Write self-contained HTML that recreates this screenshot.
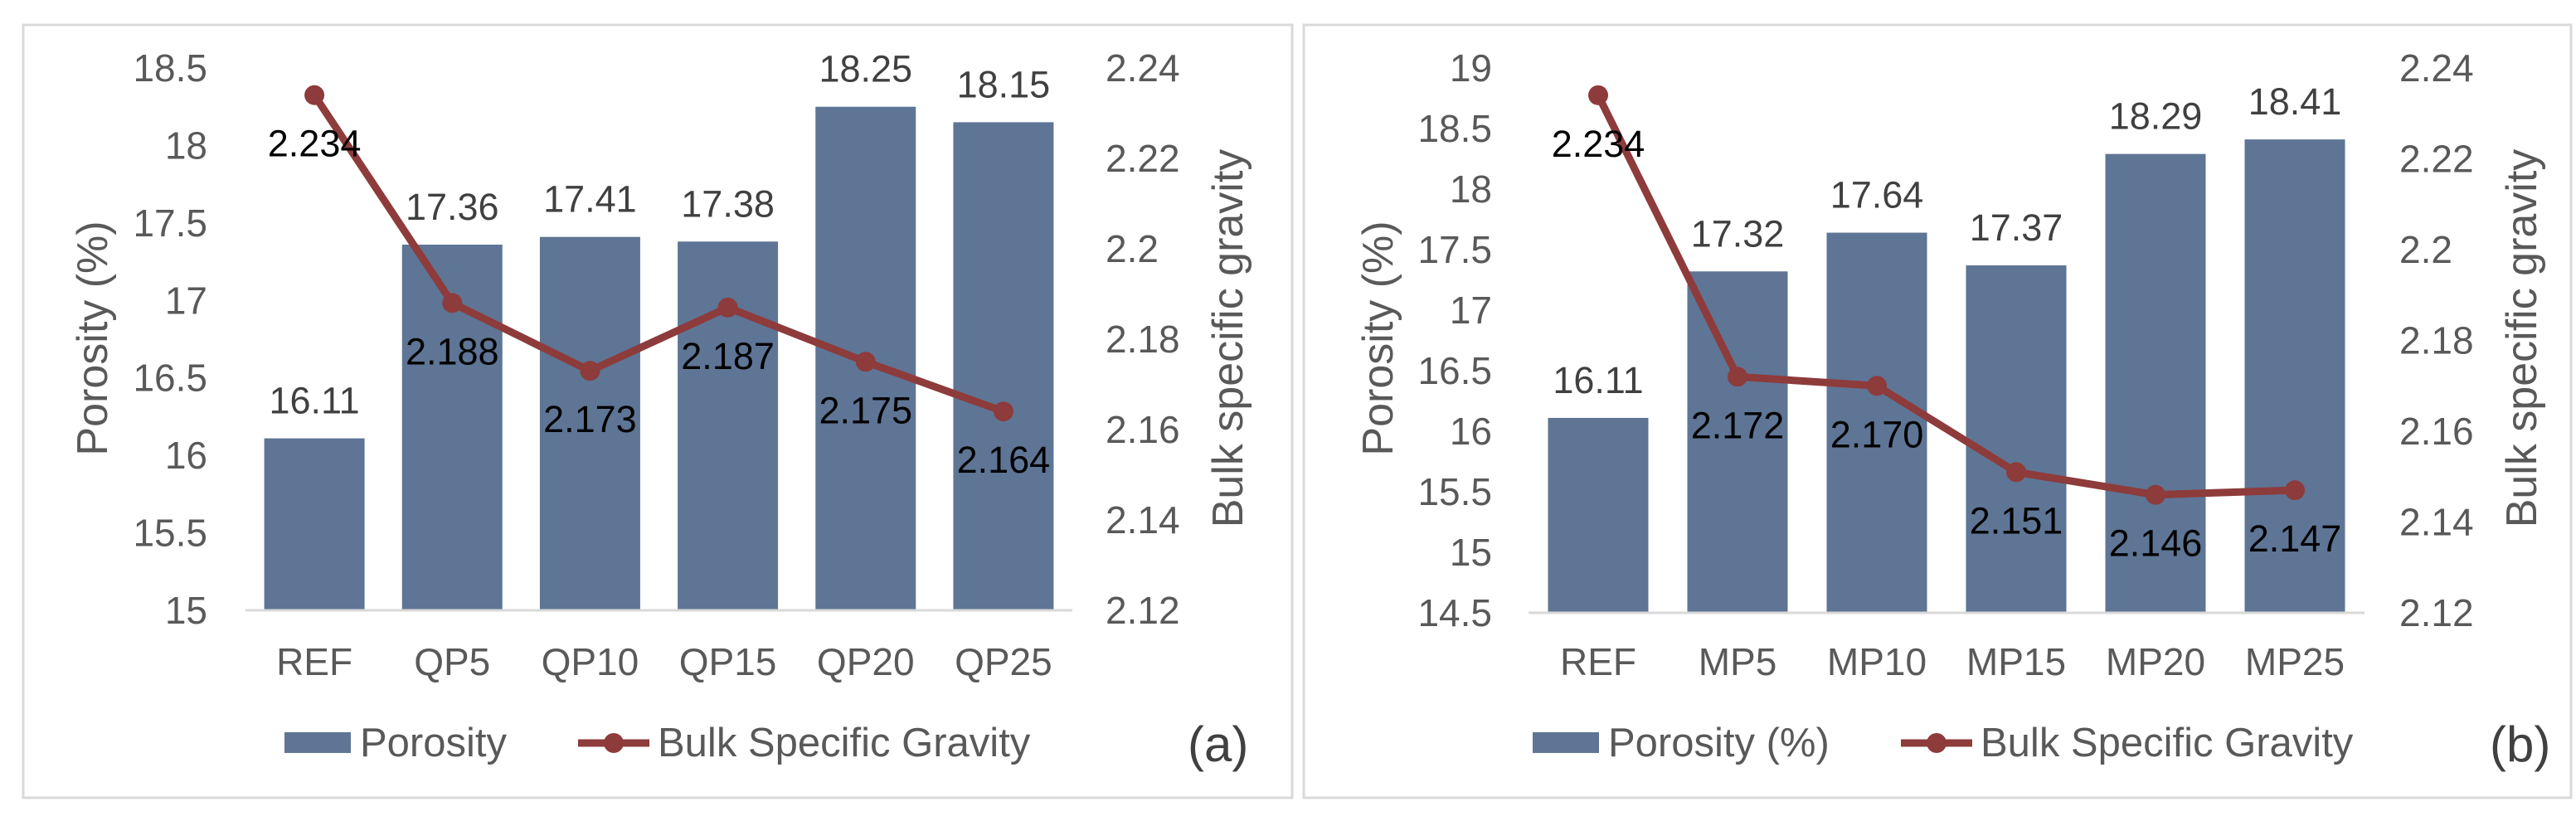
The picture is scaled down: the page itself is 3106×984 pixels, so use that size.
<!DOCTYPE html>
<html><head><meta charset="utf-8">
<style>
html,body{margin:0;padding:0;background:#fff;}
svg{display:block;font-family:"Liberation Sans",Arial,sans-serif;}
</style></head>
<body>
<svg id="chart" width="3106" height="984" viewBox="0 0 3106 984" xmlns="http://www.w3.org/2000/svg">
<rect x="0" y="0" width="3106" height="984" fill="#fff"/>
</svg>
<script>
const categoriesA = ["REF","QP5","QP10","QP15","QP20","QP25"];
const porosityA = [16.11,17.36,17.41,17.38,18.25,18.15];
const gravityA = [2.234,2.188,2.173,2.187,2.175,2.164];
const leftTicksA = [15,15.5,16,16.5,17,17.5,18,18.5];
const categoriesB = ["REF","MP5","MP10","MP15","MP20","MP25"];
const porosityB = [16.11,17.32,17.64,17.37,18.29,18.41];
const gravityB = [2.234,2.172,2.170,2.151,2.146,2.147];
const gravityLabelsB = ["2.234","2.172","2.170","2.151","2.146","2.147"];
const leftTicksB = [14.5,15,15.5,16,16.5,17,17.5,18,18.5,19];
const rightTicks = [2.12,2.14,2.16,2.18,2.2,2.22,2.24];

const NS = "http://www.w3.org/2000/svg";
const svg = document.getElementById("chart");
function mk(tag, attrs, parent, text){
  const e = document.createElementNS(NS, tag);
  for (const k in attrs) e.setAttribute(k, attrs[k]);
  if (text !== undefined) e.textContent = text;
  (parent || svg).appendChild(e);
  return e;
}

function panel(o){
  const g = mk("g", {});
  
  
  const border = mk("rect", {x:o.bx, y:30, width:o.bw, height:932, fill:"none", stroke:"#d9d9d9", "stroke-width":3}, g);
  
  
  const top = 82, bot = o.base;
  const yL = v => bot - (v - o.lmin) / (o.lmax - o.lmin) * (bot - top);
  const yR = v => bot - (v - 2.12) / (0.12) * (bot - top);
  const step = (o.x1 - o.x0) / o.cats.length;
  const xC = i => o.x0 + step * (i + 0.5);
  const bw = 121;
  o.lt.forEach(t => {
    const e = mk("text", {x:o.lx, y:yL(t)+16, "text-anchor":"end", "font-size":46, fill:"#595959"}, g, String(t));
    
    
  });
  rightTicks.forEach(t => {
    const e = mk("text", {x:o.rx, y:yR(t)+16, "font-size":46, fill:"#595959"}, g, String(t));
    
    
  });
  o.cats.forEach((c,i) => {
    const yt = yL(o.por[i]);
    const b = mk("rect", {x:xC(i)-bw/2, y:yt, width:bw, height:bot-yt, fill:"#5e7595"}, g);
    
    
    const l = mk("text", {x:xC(i), y:yt-30, "text-anchor":"middle", "font-size":45, fill:"#404040"}, g, o.por[i].toFixed(2));
    
    
    const cl = mk("text", {x:xC(i), y:814, "text-anchor":"middle", "font-size":46, fill:"#595959"}, g, c);
    
    
  });
  const axis = mk("line", {x1:o.x0, x2:o.x1, y1:bot, y2:bot, stroke:"#d9d9d9", "stroke-width":3}, g);
  
  
  const pts = o.grav.map((v,i) => xC(i) + "," + yR(v)).join(" ");
  const pl = mk("polyline", {points:pts, fill:"none", stroke:"#8e3b3b", "stroke-width":9, "stroke-linejoin":"round"}, g);
  
  
  o.grav.forEach((v,i) => {
    const c = mk("circle", {cx:xC(i), cy:yR(v), r:12, fill:"#8e3b3b"}, g);
    
    
    const t = mk("text", {x:xC(i), y:yR(v)+74, "text-anchor":"middle", "font-size":45, fill:"#000"}, g, o.glab ? o.glab[i] : String(v));
    
    
  });
  const yt = mk("text", {x:0, y:0, transform:"translate("+(o.ytx+18)+",408) rotate(-90)", "text-anchor":"middle", "font-size":52, fill:"#595959"}, g, "Porosity (%)");
  
  
  const rt = mk("text", {x:0, y:0, transform:"translate("+(o.rtx+18)+",408) rotate(-90)", "text-anchor":"middle", "font-size":52, fill:"#595959"}, g, "Bulk specific gravity");
  
  
  const sw = mk("rect", {x:o.lgx, y:883, width:80, height:25, fill:"#5e7595"}, g);
  
  
  const lt1 = mk("text", {x:o.lgx+91, y:912, "font-size":49, fill:"#595959"}, g, o.legend1);
  
  
  const ll = mk("line", {x1:o.lg2, x2:o.lg2+86, y1:896, y2:896, stroke:"#8e3b3b", "stroke-width":9}, g);
  
  
  const lc = mk("circle", {cx:o.lg2+43, cy:896, r:12, fill:"#8e3b3b"}, g);
  
  
  const lt2 = mk("text", {x:o.lg2+96, y:912, "font-size":49, fill:"#595959"}, g, "Bulk Specific Gravity");
  
  
  const pl2 = mk("text", {x:o.plx, y:918, "font-size":60, fill:"#404040"}, g, o.tag);
  
  
}

panel({name:"panel-a", bx:28, bw:1530, base:736, lmin:15, lmax:18.5, lt:leftTicksA, lx:250, rx:1333,
  x0:296, x1:1293, cats:categoriesA, por:porosityA, grav:gravityA, ytx:111, rtx:1480,
  lgx:343, lg2:697, legend1:"Porosity", plx:1432, tag:"(a)"});
panel({name:"panel-b", bx:1572, bw:1528, base:739, lmin:14.5, lmax:19, lt:leftTicksB, lx:1799, rx:2893,
  x0:1843, x1:2851, cats:categoriesB, por:porosityB, grav:gravityB, glab:gravityLabelsB, ytx:1661, rtx:3040,
  lgx:1848, lg2:2292, legend1:"Porosity (%)", plx:3002, tag:"(b)"});
</script>
</body></html>
